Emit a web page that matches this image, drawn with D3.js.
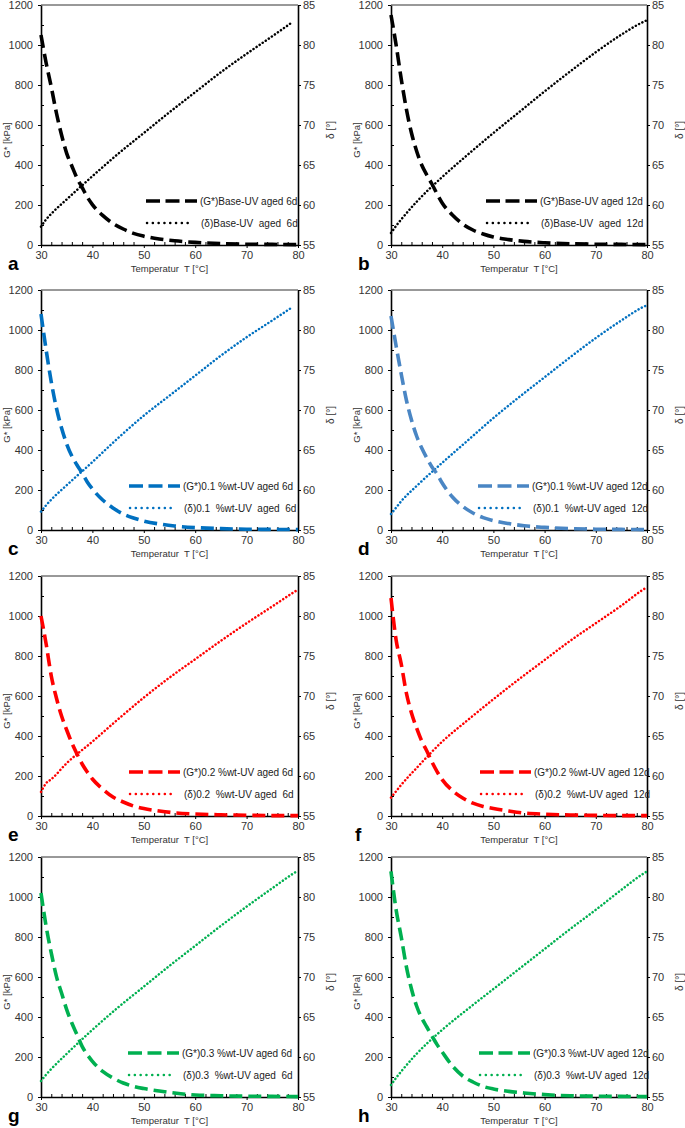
<!DOCTYPE html>
<html><head><meta charset="utf-8">
<script src="https://cdn.jsdelivr.net/npm/d3@7"></script>
<style>body{margin:0;background:#fff}svg{display:block;font-family:"Liberation Sans",Arial,sans-serif}</style>
</head><body><div id="chart"></div>
<script>
// ---- data ----
const panelIds = ["a","b","c","d","e","f","g","h"];
const gTemps = [30,31,32,33,34,35,36,37,38,39,40,42,44,46,48,50,53,56,60,65,70,75,80];
const dTemps = [30,31,32,35,40,45,50,55,60,65,70,75,79,80];
const xTicks = [30,40,50,60,70,80];
const gTicks = [0,200,400,600,800,1000,1200];
const dTicks = [55,60,65,70,75,80,85];

const gA = [1050,910,790,660,550,458,395,335,288,240,202,148,108,80,58,44,30,21,13,7,4,3,2];
const gB = [1150,1000,830,680,560,470,400,350,305,255,210,150,105,75,55,40,27,18,11,6,4,3,2];
const gC = [1080,900,740,610,510,430,370,325,285,240,205,150,110,80,60,45,30,20,12,7,4,3,2];
const gD = [1070,920,780,650,550,470,410,360,315,280,235,165,118,85,62,47,32,21,13,7,4,3,2];
const gE = [1000,860,700,590,500,430,365,310,260,220,185,135,95,70,50,37,25,16,10,6,4,2,2];
const gF = [1090,880,760,615,515,440,375,325,270,222,182,127,90,64,48,37,25,15,9,5,3,2,2];
const gG = [1020,853,720,603,520,437,370,312,253,212,178,128,95,70,53,42,30,20,10,6,4,3,2];
const gH = [1128,936,800,652,540,455,395,350,305,262,225,155,105,75,53,40,28,20,12,6,4,3,2];

const dA = [57.3,58.2,58.9,60.7,63.6,66.4,69.0,71.6,74.1,76.6,78.9,81.1,82.9,null];
const dB = [56.5,57.4,58.2,60.4,63.5,66.3,69.0,71.6,74.2,76.7,79.1,81.3,82.8,83.1];
const dC = [57.3,58.1,58.8,60.6,63.5,66.5,69.3,71.8,74.3,76.8,79.1,81.2,82.9,null];
const dD = [57.0,57.8,58.6,60.5,63.4,66.2,69.0,71.6,74.1,76.6,79.0,81.2,82.8,83.1];
const dE = [58.0,59.1,59.6,61.6,64.3,67.1,69.8,72.3,74.6,76.9,79.1,81.2,82.9,83.3];
const dF = [57.3,58.1,58.9,61.0,64.3,67.0,69.6,72.1,74.5,76.9,79.1,81.3,83.2,83.6];
const dG = [57.0,57.8,58.5,60.4,63.4,66.2,68.8,71.4,73.9,76.4,78.8,81.1,82.9,83.3];
const dH = [56.5,57.4,58.2,60.4,63.4,66.0,68.5,71.0,73.5,76.0,78.4,80.9,82.8,83.2];

const gSeries = [gA,gB,gC,gD,gE,gF,gG,gH];
const dSeries = [dA,dB,dC,dD,dE,dF,dG,dH];
const gLabels = ["(G*)Base-UV aged 6d","(G*)Base-UV aged 12d","(G*)0.1 %wt-UV aged 6d","(G*)0.1 %wt-UV aged 12d",
  "(G*)0.2 %wt-UV aged 6d","(G*)0.2 %wt-UV aged 12d","(G*)0.3 %wt-UV aged 6d","(G*)0.3 %wt-UV aged 12d"];
const dLabels = ["(δ)Base-UV  aged  6d","(δ)Base-UV  aged  12d","(δ)0.1  %wt-UV  aged  6d","(δ)0.1  %wt-UV aged  12d",
  "(δ)0.2  %wt-UV aged  6d","(δ)0.2  %wt-UV aged  12d","(δ)0.3  %wt-UV aged  6d","(δ)0.3  %wt-UV aged  12d"];
const xTitle = "Temperatur  T [°C]";
const gTitle = "G* [kPa]";
const dTitle = "δ [°]";

// ---- layout / style ----
const colLeft = [41, 391], colRight = [298, 647];
const rowTop = [5, 290, 576, 857], plotH = 240;
const legendOffset = [105, 95, 88, 87, 88, 89, 87, 88];
const labelX = [8, 358, 8, 358, 8, 355, 8, 358];
const gColors = ["#000","#000","#0070C0","#4A86C4","#FF0000","#FF0000","#00B050","#00B050"];
const dColors = ["#000","#000","#0070C0","#0070C0","#FF0000","#FF0000","#00B050","#00B050"];
const tickColor = "#333";

const svg = d3.select("#chart").append("svg").attr("width",685).attr("height",1128);
svg.append("rect").attr("width",685).attr("height",1128).attr("fill","#fff");

panelIds.forEach((id,i)=>{
  const col = i%2, row = Math.floor(i/2);
  const L = colLeft[col], R = colRight[col], T = rowTop[row], B = T+plotH;
  const x = d3.scaleLinear().domain([30,80]).range([L,R]);
  const yG = d3.scaleLinear().domain([0,1200]).range([B,T]);
  const yD = d3.scaleLinear().domain([55,85]).range([B,T]);
  const g = svg.append("g");

  // minor ticks (inward)
  const xMinor = d3.range(32,80,2).filter(v=>v%10!==0);
  g.append("g").attr("transform",`translate(0,${B})`)
    .call(d3.axisBottom(x).tickValues(xMinor).tickSize(-3).tickFormat(""))
    .call(s=>{s.select(".domain").remove(); s.selectAll("line").attr("stroke","#000");});
  const gMinor = d3.range(100,1200,200);
  g.append("g").attr("transform",`translate(${L},0)`)
    .call(d3.axisLeft(yG).tickValues(gMinor).tickSize(-3).tickFormat(""))
    .call(s=>{s.select(".domain").remove(); s.selectAll("line").attr("stroke","#000");});

  // major axes
  const fmt = d3.format("d");
  const ax = g.append("g").attr("transform",`translate(0,${B})`)
    .call(d3.axisBottom(x).tickValues(xTicks).tickFormat(fmt).tickSize(3).tickSizeOuter(0).tickPadding(3));
  const ayl = g.append("g").attr("transform",`translate(${L},0)`)
    .call(d3.axisLeft(yG).tickValues(gTicks).tickFormat(fmt).tickSize(3).tickSizeOuter(0).tickPadding(5));
  const ayr = g.append("g").attr("transform",`translate(${R},0)`)
    .call(d3.axisRight(yD).tickValues(dTicks).tickFormat(fmt).tickSize(3).tickSizeOuter(0).tickPadding(2));
  [ax,ayl,ayr].forEach(a=>{
    a.select(".domain").attr("stroke","#000").attr("stroke-width",1.6);
    a.selectAll(".tick line").attr("stroke","#000");
    a.selectAll(".tick text").attr("fill",tickColor).style("font-size","11px")
      .style("font-family","'Liberation Sans',Arial,sans-serif");
  });
  // top border
  g.append("line").attr("x1",L).attr("x2",R).attr("y1",T).attr("y2",T)
    .attr("stroke","#333").attr("stroke-width",1);

  // series
  const lineG = d3.line().x((d,j)=>x(gTemps[j])).y(d=>yG(d)).curve(d3.curveMonotoneX);
  const lineD = d3.line().defined(d=>d!==null).x((d,j)=>x(dTemps[j])).y(d=>yD(d)).curve(d3.curveMonotoneX);
  g.append("path").attr("d",lineD(dSeries[i])).attr("fill","none")
    .attr("stroke",dColors[i]).attr("stroke-width",2.5)
    .attr("stroke-dasharray","0.1,3.6").attr("stroke-linecap","round");
  g.append("path").attr("d",lineG(gSeries[i])).attr("fill","none")
    .attr("stroke",gColors[i]).attr("stroke-width",3.6)
    .attr("stroke-dasharray","13,6");

  // legend
  const lx = L + legendOffset[i];
  const ly1 = B-44, ly2 = B-22;
  g.append("line").attr("x1",lx).attr("x2",lx+51).attr("y1",ly1).attr("y2",ly1)
    .attr("stroke",gColors[i]).attr("stroke-width",3.6).attr("stroke-dasharray","14,5.5");
  g.append("line").attr("x1",lx+1).attr("x2",lx+47).attr("y1",ly2).attr("y2",ly2)
    .attr("stroke",dColors[i]).attr("stroke-width",2.5).attr("stroke-dasharray","0.1,5.7").attr("stroke-linecap","round");
  g.append("text").attr("x",lx+54).attr("y",ly1).attr("dy","0.35em")
    .attr("fill","#222").style("font-size","10px").style("white-space","pre").text(gLabels[i]);
  g.append("text").attr("x",lx+55).attr("y",ly2).attr("dy","0.35em")
    .attr("fill","#222").style("font-size","10px").style("white-space","pre").text(dLabels[i]);

  // titles
  g.append("text").attr("x",(L+R)/2).attr("y",B+27).attr("text-anchor","middle")
    .attr("fill","#333").style("font-size","9.5px").style("white-space","pre").text(xTitle);
  g.append("text").attr("transform",`translate(${L-31},${(T+B)/2+15}) rotate(-90)`)
    .attr("text-anchor","middle").attr("fill","#333").style("font-size","9.5px").text(gTitle);
  g.append("text").attr("transform",`translate(${R+36},${(T+B)/2+5}) rotate(-90)`)
    .attr("text-anchor","middle").attr("fill","#333").style("font-size","10px").text(dTitle);
  // panel label
  g.append("text").attr("x",labelX[i]).attr("y",B+25).attr("fill","#000")
    .style("font-size","19px").style("font-weight","bold").text(id);
});
</script></body></html>
